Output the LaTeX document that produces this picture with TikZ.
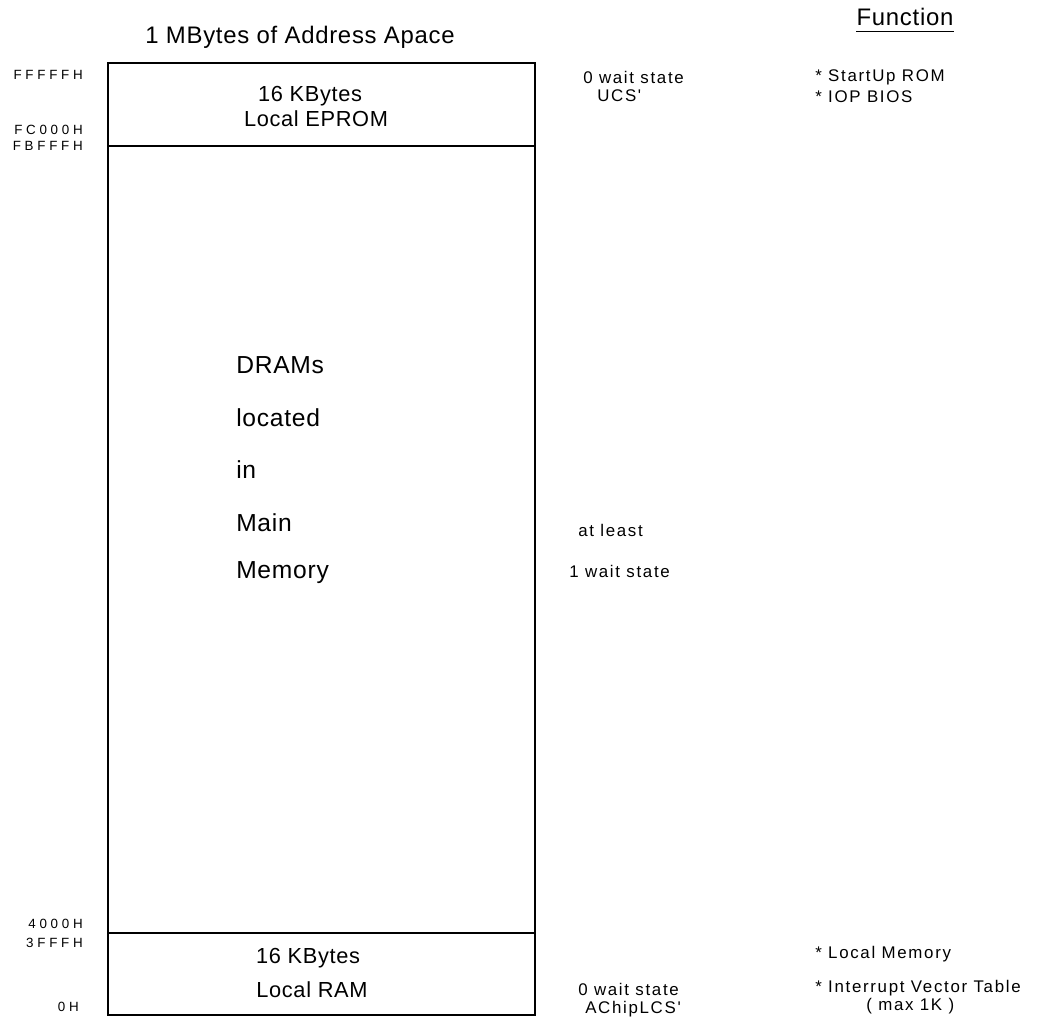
\documentclass[tikz,border=0pt]{standalone}
\usepackage{fontspec}
\setmainfont{Liberation Sans}
\newfontfamily\bigfont[LetterSpace=3]{Liberation Sans}
\newfontfamily\smallfont[LetterSpace=10]{Liberation Sans}
\newfontfamily\addrfont[LetterSpace=28]{Liberation Sans}
\newcommand{\bigtxt}{\bigfont\fontsize{15.5}{18}\selectfont}
\newcommand{\headtxt}{\bigfont\fontsize{17}{20}\selectfont}
\newcommand{\dramtxt}{\bigfont\fontsize{17.5}{20}\selectfont}
\newcommand{\smalltxt}{\smallfont\fontsize{12}{14}\selectfont}
\newcommand{\addrtxt}{\addrfont\fontsize{9.5}{11}\selectfont}

\begin{document}
\begin{tikzpicture}[x=0.025cm,y=-0.025cm,
  big/.style={font=\bigtxt,inner sep=0pt},
  head/.style={font=\headtxt,inner sep=0pt},
  dram/.style={font=\dramtxt,inner sep=0pt,anchor=west},
  small/.style={font=\smalltxt,inner sep=0pt,anchor=west},
  addr/.style={font=\addrtxt,inner sep=0pt,anchor=east},
  frame/.style={line width=1.1pt}]
\useasboundingbox (0,0) rectangle (1048,1017);
% headings
\node[head] (title) at (300,37) {1 MBytes of Address Apace};
\node[head] (func) at (905,17) {Function};
\draw[line width=0.8pt] ([yshift=-4pt]func.south west) -- ([yshift=-4pt]func.south east);
% memory map
\draw[frame] (108,63) rectangle (535,1015);
\draw[frame] (108,146) -- (535,146);
\draw[frame] (108,933) -- (535,933);
\node[big] (epromA) at (310,96) {16 KBytes};
\node[big] (epromB) at (316,119) {Local EPROM};
\node[dram] (dramA) at (236,365) {DRAMs};
\node[dram] (dramB) at (236,418) {located};
\node[dram] (dramC) at (236,470) {in};
\node[dram] (dramD) at (236,523) {Main};
\node[dram] (dramE) at (236,573) {Memory};
\node[big] (ramA) at (308,958) {16 KBytes};
\node[big] (ramB) at (312,990) {Local RAM};
% addresses
\node[addr] (a1) at (83,75) {FFFFFH};
\node[addr] (a2) at (83,130) {FC000H};
\node[addr] (a3) at (83,146) {FBFFFH};
\node[addr] (a4) at (83,924) {4000H};
\node[addr] (a5) at (83,943) {3FFFH};
\node[addr] (a6) at (79,1007) {0H};
% wait states
\node[small] (w1) at (583,77) {0 wait state};
\node[small] (w2) at (597,96) {UCS'};
\node[small] (w3) at (578,530) {at least};
\node[small] (w4) at (569,571) {1 wait state};
\node[small] (w5) at (578,989) {0 wait state};
\node[small] (w6) at (585,1009) {AChipLCS'};
% functions
\node[small] (f1) at (815,77) {* StartUp ROM};
\node[small] (f2) at (815,97) {* IOP BIOS};
\node[small] (f3) at (815,954) {* Local Memory};
\node[small] (f4) at (815,988) {* Interrupt Vector Table};
\node[small] (f5) at (866,1006) {( max 1K )};
\end{tikzpicture}
\end{document}
